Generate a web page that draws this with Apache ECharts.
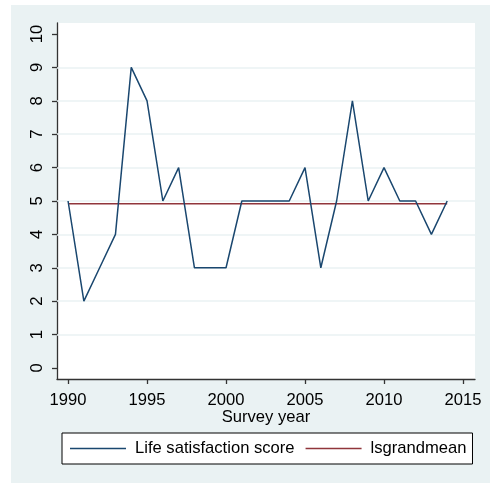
<!DOCTYPE html>
<html>
<head>
<meta charset="utf-8">
<script src="https://cdn.jsdelivr.net/npm/echarts@6/dist/echarts.min.js"></script>
<style>
  html, body { margin: 0; padding: 0; background: #fff; }
  #chart { width: 490px; height: 484px; }
</style>
</head>
<body>
<div id="chart"></div>
<script type="text/javascript">
    var years = [1990, 1991, 1992, 1993, 1994, 1995, 1996, 1997, 1998, 1999, 2000, 2001, 2002,
                 2003, 2004, 2005, 2006, 2007, 2008, 2009, 2010, 2011, 2012, 2013, 2014];
    var lifeSat = [5, 2, 3, 4, 9, 8, 5, 6, 3, 3, 3, 5, 5, 5, 5, 6, 3, 5, 8, 5, 6, 5, 5, 4, 5];
    var grandMean = 4.92;
    var xTicks = [1990, 1995, 2000, 2005, 2010, 2015];
    var yTicks = [0, 1, 2, 3, 4, 5, 6, 7, 8, 9, 10];
    var yGrid = [1, 2, 3, 4, 5, 6, 7, 8, 9];

    var chart = echarts.init(document.getElementById('chart'), null, {renderer: 'canvas'});
    var font = 'Liberation Sans, Arial, sans-serif';

    option = {
        backgroundColor: '#ffffff',
        animation: false,
        textStyle: {fontFamily: font},
        graphic: [
            {
                type: 'rect', z: -10, silent: true,
                shape: {x: 11, y: 5, width: 479, height: 478},
                style: {fill: '#eaf2f3'}
            }
        ],
        grid: {
            left: 57, top: 23, right: 15, bottom: 105,
            show: true, backgroundColor: '#ffffff', borderWidth: 0
        },
        legend: {
            left: 62, top: 433,
            padding: [7, 6, 7, 8],
            itemGap: 11,
            itemWidth: 56, itemHeight: 1.3,
            icon: 'rect',
            backgroundColor: '#ffffff',
            borderColor: '#000000', borderWidth: 1,
            textStyle: {fontSize: 16.6, color: '#000', fontFamily: font, padding: [0, 0, 0, 4]},
            data: ['Life satisfaction score', 'lsgrandmean']
        },
        xAxis: {
            type: 'value',
            min: 1989.3, max: 2015.76,
            name: 'Survey year',
            nameLocation: 'middle',
            nameGap: 30,
            nameMoveOverlap: false,
            nameTextStyle: {fontSize: 16.6, color: '#000', fontFamily: font},
            axisLine: {show: true, onZero: false, lineStyle: {color: '#333', width: 1.3}},
            axisTick: {show: true, length: 5, customValues: xTicks, lineStyle: {color: '#333', width: 1.3}},
            axisLabel: {customValues: xTicks, fontSize: 16.6, color: '#000', margin: 13,
                formatter: function (v) { return String(v); }},
            splitLine: {show: false}
        },
        yAxis: {
            type: 'value',
            min: -0.33, max: 10.33,
            axisLine: {show: true, onZero: false, lineStyle: {color: '#333', width: 1.3}},
            axisTick: {show: true, length: 5, customValues: yTicks, lineStyle: {color: '#333', width: 1.3}},
            axisLabel: {customValues: yTicks, rotate: 90, fontSize: 16.6, color: '#000', margin: 11,
                formatter: function (v) { return String(v); }},
            splitLine: {show: false}
        },
        series: [
            {
                name: 'Life satisfaction score',
                type: 'line',
                symbol: 'none',
                z: 3,
                color: '#1a476f',
                lineStyle: {color: '#1a476f', width: 1.5},
                data: years.map(function (y, i) { return [y, lifeSat[i]]; }),
                markLine: {
                    silent: true, symbol: 'none', z: 1,
                    label: {show: false},
                    lineStyle: {color: '#eaf2f3', width: 1.5, type: 'solid'},
                    data: yGrid.map(function (v) { return {yAxis: v}; })
                }
            },
            {
                name: 'lsgrandmean',
                type: 'line',
                symbol: 'none',
                z: 2,
                color: '#90353b',
                lineStyle: {color: '#90353b', width: 1.5},
                data: years.map(function (y) { return [y, grandMean]; })
            }
        ]
    };

    chart.setOption(option);
</script>
</body>
</html>
